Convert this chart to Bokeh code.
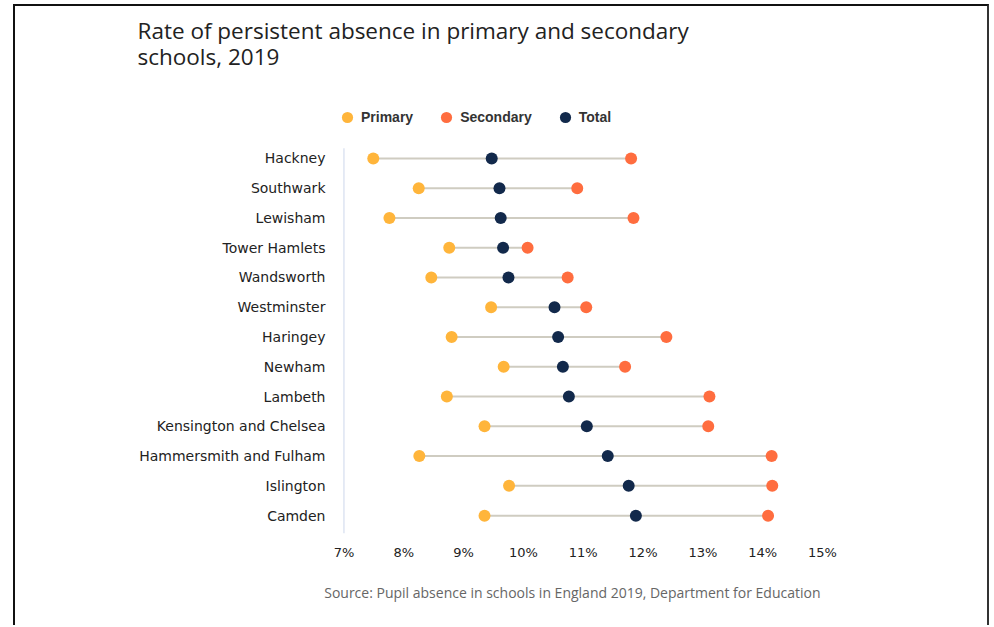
from bokeh.plotting import figure
from bokeh.models import (ColumnDataSource, Range1d, FixedTicker, PrintfTickFormatter,
                          Legend, LegendItem, Title)
from bokeh.embed import file_html
from bokeh.resources import INLINE

# ---- data (percent) ----
boroughs = ["Hackney", "Southwark", "Lewisham", "Tower Hamlets", "Wandsworth",
            "Westminster", "Haringey", "Newham", "Lambeth", "Kensington and Chelsea",
            "Hammersmith and Fulham", "Islington", "Camden"]
primary = [7.49, 8.25, 7.76, 8.76, 8.46, 9.46, 8.80, 9.67, 8.72, 9.35, 8.26, 9.76, 9.35]
secondary = [11.80, 10.90, 11.84, 10.07, 10.74, 11.05, 12.39, 11.70, 13.11, 13.09, 14.15, 14.16, 14.09]
total = [9.47, 9.60, 9.62, 9.66, 9.75, 10.52, 10.58, 10.66, 10.76, 11.06, 11.41, 11.76, 11.88]
x_ticks = [7, 8, 9, 10, 11, 12, 13, 14, 15]

title_text = "Rate of persistent absence in primary and secondary\nschools, 2019"
source_text = "Source: Pupil absence in schools in England 2019, Department for Education"

C_PRIMARY = "#ffb53b"
C_SECONDARY = "#ff6d3f"
C_TOTAL = "#12294b"
C_LINE = "#cfccc1"
C_AXIS = "#ccd6eb"

n = len(boroughs)
rows = list(range(n))
src = ColumnDataSource(dict(y=rows, primary=primary, secondary=secondary, total=total))

# y extent: room above the first row for the legend
Y_TOP = -2.65        # top of plotting area (legend lives here)
Y_AXIS_TOP = -0.34   # where the visible axis line starts
Y_BOTTOM = n - 1 + 0.60
X_START = x_ticks[0] - 0.225

p = figure(width=976, height=621, output_backend="svg", toolbar_location=None,
           x_range=Range1d(X_START, x_ticks[-1]), y_range=Range1d(Y_BOTTOM, Y_TOP),
           min_border_left=315, min_border_right=169, min_border_top=0, min_border_bottom=94,
           title=None,
           styles={"margin-left": "13px", "margin-top": "4px",
                   "border-top": "2px solid #111111", "border-left": "2px solid #111111",
                   "border-right": "2px solid #333333"})

p.outline_line_color = None
p.xgrid.grid_line_color = None
p.ygrid.grid_line_color = None
p.background_fill_color = "white"
p.border_fill_color = "white"

# x axis
xa = p.xaxis[0]
xa.ticker = FixedTicker(ticks=x_ticks)
xa.formatter = PrintfTickFormatter(format="%d%%")
xa.axis_line_color = None
xa.major_tick_line_color = None
xa.minor_tick_line_color = None
xa.major_tick_out = 0
xa.major_tick_in = 0
xa.major_label_standoff = 11
xa.major_label_text_font = "DejaVu Sans"
xa.major_label_text_font_size = "13px"
xa.major_label_text_color = "#222222"

# y axis (labels only; axis line drawn as a segment below the legend area)
ya = p.yaxis[0]
ya.ticker = FixedTicker(ticks=rows)
ya.major_label_overrides = {i: b for i, b in enumerate(boroughs)}
ya.axis_line_color = None
ya.major_tick_line_color = None
ya.minor_tick_line_color = None
ya.major_tick_out = 0
ya.major_tick_in = 0
ya.major_label_standoff = 5
ya.major_label_text_font = "DejaVu Sans"
ya.major_label_text_font_size = "14px"
ya.major_label_text_color = "#222222"

p.segment(x0=[x_ticks[0]], x1=[x_ticks[0]], y0=[Y_AXIS_TOP], y1=[Y_BOTTOM],
          line_color=C_AXIS, line_width=1)

p.segment(x0="primary", x1="secondary", y0="y", y1="y", source=src,
          line_color=C_LINE, line_width=2)
r1 = p.scatter(x="primary", y="y", source=src, size=12, fill_color=C_PRIMARY, line_color=None)
r2 = p.scatter(x="secondary", y="y", source=src, size=12, fill_color=C_SECONDARY, line_color=None)
r3 = p.scatter(x="total", y="y", source=src, size=12, fill_color=C_TOTAL, line_color=None)

legend = Legend(items=[LegendItem(label="Primary", renderers=[r1]),
                       LegendItem(label="Secondary", renderers=[r2]),
                       LegendItem(label="Total", renderers=[r3])],
                orientation="horizontal", location=(3, 402),
                glyph_width=28, glyph_height=28, label_standoff=0, spacing=19,
                padding=0, margin=0, border_line_color=None, background_fill_alpha=0,
                label_text_font="Liberation Sans", label_text_font_style="bold",
                label_text_font_size="14px", label_text_color="#333333",
                label_height=20)
p.add_layout(legend, "center")

p.add_layout(Title(text=title_text, align="left", offset=-193, standoff=14,
                   text_font="Open Sans", text_font_size="22.5px", text_font_style="normal",
                   text_color="#222222", text_line_height=0.84), "above")

p.add_layout(Title(text=source_text, align="right", offset=2, standoff=37,
                   text_font="Open Sans", text_font_size="14px", text_font_style="normal",
                   text_color="#666666"), "below")

open("out.html", "w").write(file_html(p, INLINE))
